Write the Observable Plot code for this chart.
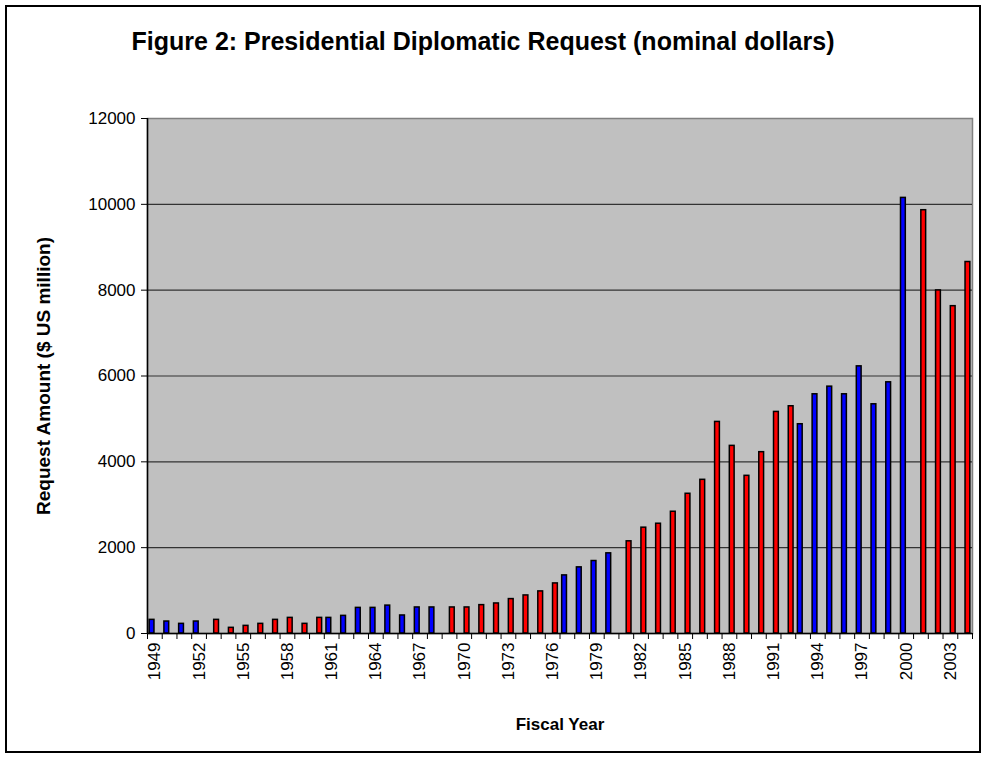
<!DOCTYPE html>
<html>
<head>
<meta charset="utf-8">
<script src="https://cdn.jsdelivr.net/npm/d3@7"></script>
<script src="https://cdn.jsdelivr.net/npm/@observablehq/plot@0.6"></script>
<style>
  html, body { margin: 0; padding: 0; background: white; }
  #frame { position: absolute; left: 5px; top: 5px; width: 972px; height: 744px; border: 2px solid black; }
  #title { position: absolute; left: 0; top: 27px; width: 966px; text-align: center;
           font: bold 25px "Liberation Sans", Arial, sans-serif; color: black; }
  #chart { position: absolute; left: 0; top: 80px; }
  #chart svg [aria-label="y-axis label"] text, #chart svg [aria-label="x-axis label"] text { font-weight: bold; }
</style>
</head>
<body>
<div id="frame"></div>
<div id="title">Figure 2: Presidential Diplomatic Request (nominal dollars)</div>
<div id="chart"></div>
<script>
const years = d3.range(1949, 2005);
const amounts = [
  318, 279, 225, 279, 318, 132, 178, 225, 318, 364, 225, 364, 364, 411, 597, 597, 650,
  420, 607, 607, 607, 607, 661, 700, 802, 887, 981, 1167, 1354, 1541, 1689, 1868, 2148, 2466,
  2558, 2837, 3256, 3581, 4930, 4372, 3674, 4225, 5163, 5295, 4876, 5574, 5752, 5574, 6225, 5341, 5853, 10150,
  9863, 7994, 7627, 8656
];
const party = [
  "D","D","D","D","R","R","R","R","R","R","R","R","D","D","D","D","D",
  "D","D","D","R","R","R","R","R","R","R","R","D","D","D","D","R","R",
  "R","R","R","R","R","R","R","R","R","R","D","D","D","D","D","D","D","D",
  "R","R","R","R"
];
const labelYears = [1949,1952,1955,1958,1961,1964,1967,1970,1973,1976,1979,1982,1985,1988,1991,1994,1997,2000,2003];
const yTicks = [0, 2000, 4000, 6000, 8000, 10000, 12000];

const data = years.map((y, i) => ({year: y, amount: amounts[i], party: party[i]}));

const W = 987, H = 685, ML = 147, MR = 15, MT = 38, MB = 132;
const band = (W - ML - MR) / years.length;
const w = 4.8, off = 2.8;
const inA = band / 2 - off - w / 2;   // outer inset
const inB = band / 2 + off - w / 2;   // inner inset

const chart = Plot.plot({
  width: W, height: H,
  marginLeft: ML, marginRight: MR, marginTop: MT, marginBottom: MB,
  style: {fontFamily: '"Liberation Sans", Arial, sans-serif', fontSize: "17px", color: "black", background: "transparent", overflow: "visible"},
  x: {domain: [1949, 2005], axis: null},
  y: {domain: [0, 12000], axis: null},
  marks: [
    Plot.frame({fill: "#C0C0C0", stroke: "#808080", strokeWidth: 1.5}),
    Plot.gridY([2000, 4000, 6000, 8000, 10000], {stroke: "#333333", strokeOpacity: 1, strokeWidth: 1.2}),
    Plot.rectY(data.filter(d => d.party === "D"), {
      x1: "year", x2: d => d.year + 1, y: "amount",
      fill: "#0000FF", stroke: "black", strokeWidth: 1.5,
      insetLeft: inA, insetRight: inB
    }),
    Plot.rectY(data.filter(d => d.party === "R"), {
      x1: "year", x2: d => d.year + 1, y: "amount",
      fill: "#FF0000", stroke: "black", strokeWidth: 1.5,
      insetLeft: inB, insetRight: inA
    }),
    Plot.ruleX([1949], {stroke: "black", strokeWidth: 1.5}),
    Plot.ruleY([0], {stroke: "black", strokeWidth: 1.5}),
    Plot.axisY({ticks: yTicks, tickFormat: d => String(d), tickSize: 6, tickPadding: 6, fontSize: 17,
      label: "Request Amount ($ US million)", labelAnchor: "center", labelArrow: "none", labelOffset: 111}),
    Plot.axisX({ticks: d3.range(1949, 2006), tickFormat: () => "", tickSize: 6, label: null}),
    Plot.axisX({ticks: labelYears.map(y => y + 0.5), tickFormat: d => String(Math.floor(d)), tickSize: 0,
      tickPadding: 9, tickRotate: -90, fontSize: 17,
      label: "Fiscal Year", labelAnchor: "center", labelArrow: "none", labelOffset: 96})
  ]
});
document.getElementById("chart").appendChild(chart);
const yl = chart.querySelector('[aria-label="y-axis label"]');
if (yl) yl.setAttribute("font-size", "19");
</script>
</body>
</html>
